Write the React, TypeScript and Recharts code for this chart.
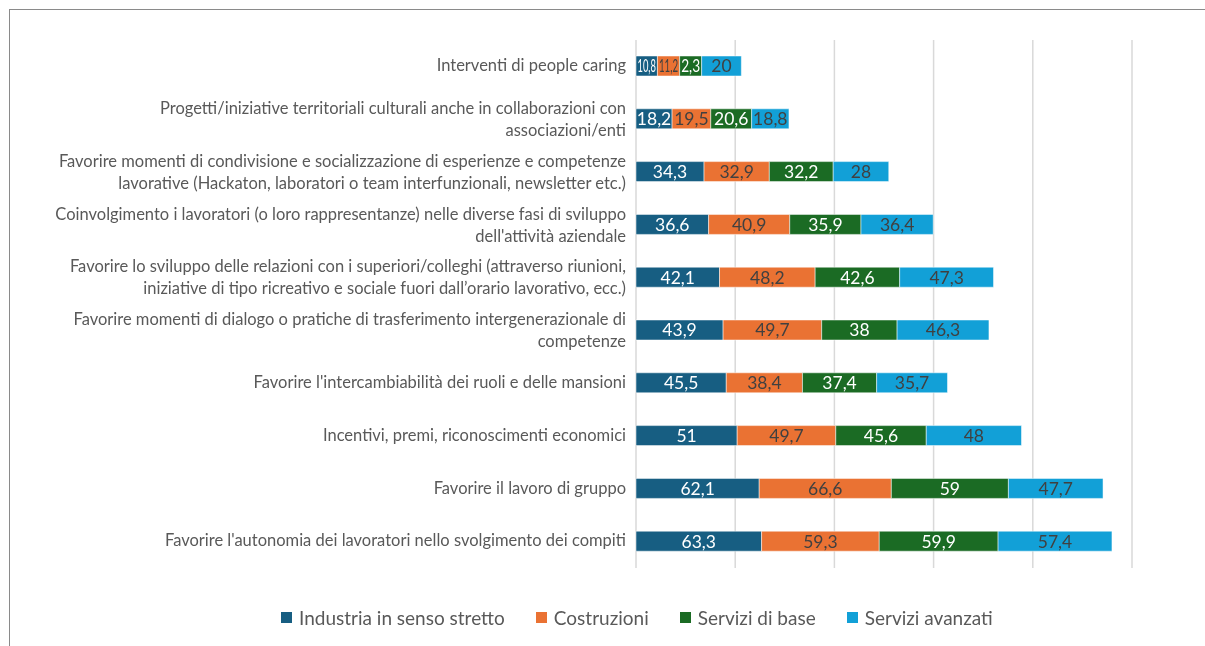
import React from "react";
import { BarChart, Bar, XAxis, YAxis, CartesianGrid, Legend, LabelList } from "recharts";

const categories: string[] = [
  "Interventi di people caring",
  "Progetti/iniziative territoriali culturali anche in collaborazioni con\nassociazioni/enti",
  "Favorire momenti di condivisione e socializzazione di esperienze e competenze\nlavorative (Hackaton, laboratori o team interfunzionali, newsletter etc.)",
  "Coinvolgimento i lavoratori (o loro rappresentanze) nelle diverse fasi di sviluppo\ndell'attività aziendale",
  "Favorire lo sviluppo delle relazioni con i superiori/colleghi (attraverso riunioni,\niniziative di tipo ricreativo e sociale fuori dall’orario lavorativo, ecc.)",
  "Favorire momenti di dialogo o pratiche di trasferimento intergenerazionale di\ncompetenze",
  "Favorire l'intercambiabilità dei ruoli e delle mansioni",
  "Incentivi, premi, riconoscimenti economici",
  "Favorire il lavoro di gruppo",
  "Favorire l'autonomia dei lavoratori nello svolgimento dei compiti",
];

const seriesNames = ["Industria in senso stretto", "Costruzioni", "Servizi di base", "Servizi avanzati"];
const industria = [10.8, 18.2, 34.3, 36.6, 42.1, 43.9, 45.5, 51, 62.1, 63.3];
const costruzioni = [11.2, 19.5, 32.9, 40.9, 48.2, 49.7, 38.4, 49.7, 66.6, 59.3];
// bar length as drawn in the reference (first row bar is ~11 wide but labelled 2,3)
const serviziBase = [11.1, 20.6, 32.2, 35.9, 42.6, 38, 37.4, 45.6, 59, 59.9];
const serviziBaseLabels = ["2,3", "20,6", "32,2", "35,9", "42,6", "38", "37,4", "45,6", "59", "59,9"];
const serviziAvanzati = [20, 18.8, 28, 36.4, 47.3, 46.3, 35.7, 48, 47.7, 57.4];
const xTicks = [0, 50, 100, 150, 200, 250];

const colors = ["#175E82", "#EA7233", "#1B6B24", "#12A0D7"];
const labelColors = ["#FFFFFF", "#404040", "#FFFFFF", "#404040"];
const FONT = "Lato, 'Open Sans', sans-serif";

const fmt = (v: number) => String(v).replace(".", ",");

const data = categories.map((c, i) => ({
  cat: c,
  s0: industria[i],
  s1: costruzioni[i],
  s2: serviziBase[i],
  s3: serviziAvanzati[i],
  l0: fmt(industria[i]),
  l1: fmt(costruzioni[i]),
  l2: serviziBaseLabels[i],
  l3: fmt(serviziAvanzati[i]),
}));

const makeLabel = (si: number) => (props: any) => {
  const { x, y, width, height, index } = props;
  const row = data[index];
  const text = (row as any)["l" + si] as string;
  const fs = 17.5;
  const natural = text.length * fs * 0.5;
  const squeeze = natural > width + 4;
  return (
    <text
      x={x + width / 2}
      y={y + height / 2}
      dy="0.36em"
      textAnchor="middle"
      fill={labelColors[si]}
      fontSize={fs}
      fontFamily={FONT}
      {...(squeeze ? { textLength: Math.max(width - 3, 8), lengthAdjust: "spacingAndGlyphs" } : {})}
    >
      {text}
    </text>
  );
};

const CatTick = (props: any) => {
  const { x, y, payload } = props;
  const lines = String(payload.value).split("\n");
  const lh = 22;
  return (
    <g>
      {lines.map((ln, i) => (
        <text
          key={i}
          x={x}
          y={y + (i - (lines.length - 1) / 2) * lh - (lines.length === 1 ? 1 : 0)}
          dy="0.35em"
          textAnchor="end"
          fill="#595959"
          fontSize={16.5}
          fontFamily={FONT}
        >
          {ln}
        </text>
      ))}
    </g>
  );
};

const EmptyTick = () => <g />;

const LegendContent = () => (
  <div style={{ display: "flex", alignItems: "center", fontFamily: FONT, fontSize: 19, color: "#595959" }}>
    {seriesNames.map((n, i) => (
      <div key={n} style={{ display: "flex", alignItems: "center", marginRight: 31 }}>
        <div style={{ width: 11, height: 11, background: colors[i], marginRight: 7 }} />
        <span>{n}</span>
      </div>
    ))}
  </div>
);

export default function App() {
  return (
    <div style={{ position: "relative", width: 1189, height: 630 }}>
      <div
        style={{
          position: "fixed",
          left: 9,
          top: 9,
          right: 0,
          bottom: 0,
          borderLeft: "1px solid #8a8a8a",
          borderTop: "1px solid #8a8a8a",
          pointerEvents: "none",
        }}
      />
      <div style={{ position: "absolute", left: 1, top: 1 }}>
        <BarChart
          width={1187}
          height={629}
          data={data}
          layout="vertical"
          margin={{ top: 31, right: 64, left: 0, bottom: 47 }}
          barSize={20}
        >
          <CartesianGrid horizontal={false} stroke="#D9D9D9" strokeWidth={1.5} />
          <XAxis
            type="number"
            domain={[0, 250]}
            ticks={xTicks}
            axisLine={false}
            tickLine={false}
            tick={<EmptyTick />}
            height={0}
          />
          <YAxis
            type="category"
            dataKey="cat"
            width={627}
            axisLine={false}
            tickLine={false}
            tickSize={0}
            tickMargin={10}
            tick={<CatTick />}
            interval={0}
          />
          <Legend content={<LegendContent />} wrapperStyle={{ left: 272, top: 597, width: 800 }} />
          {["s0", "s1", "s2", "s3"].map((k, si) => (
            <Bar
              key={k}
              dataKey={k}
              stackId="a"
              fill={colors[si]}
              stroke="#ffffff"
              strokeWidth={0.5}
              name={seriesNames[si]}
              isAnimationActive={false}
            >
              <LabelList dataKey={k} content={makeLabel(si)} />
            </Bar>
          ))}
        </BarChart>
      </div>
    </div>
  );
}
